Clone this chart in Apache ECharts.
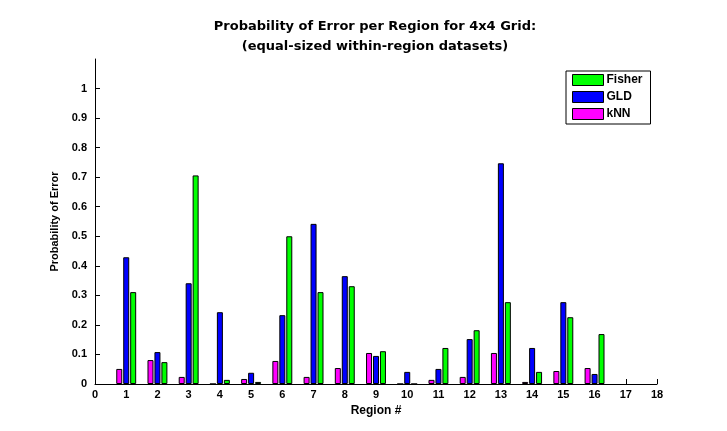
<!DOCTYPE html>
<html>
<head>
<meta charset="utf-8">
<script src="https://cdn.jsdelivr.net/npm/echarts@6/dist/echarts.min.js"></script>
<style>html,body{margin:0;padding:0;background:#fff;}#c{width:727px;height:431px;}</style>
</head>
<body>
<div id="c"></div>
<script>
const regions = [1,2,3,4,5,6,7,8,9,10,11,12,13,14,15,16];
const knn    = [0.051,0.081,0.024,0.000,0.017,0.078,0.024,0.054,0.105,0.000,0.014,0.024,0.105,0.007,0.044,0.054];
const gld    = [0.429,0.108,0.341,0.243,0.038,0.233,0.542,0.365,0.095,0.041,0.051,0.152,0.747,0.122,0.277,0.034];
const fisher = [0.311,0.074,0.706,0.014,0.007,0.500,0.311,0.331,0.111,0.000,0.122,0.182,0.277,0.041,0.226,0.169];

const font = 'Liberation Sans';
const pairs = arr => regions.map((r,i)=>[r, arr[i]]);
const barStyle = c => ({color:c, borderColor:'#000', borderWidth:1});

const chart = echarts.init(document.getElementById('c'));
chart.setOption({
  animation:false,
  backgroundColor:'#fff',
  title:{
    text:'Probability of Error per Region for 4x4 Grid:\n(equal-sized within-region datasets)',
    left:370, top:12, textAlign:'center',
    textStyle:{fontFamily:'DejaVu Sans', fontSize:13, fontWeight:'bold', color:'#000', lineHeight:20}
  },
  legend:{
    data:['Fisher','GLD','kNN'],
    orient:'vertical', left:566, top:71,
    padding:[3,8,4,6],
    icon:'rect',
    itemWidth:31, itemHeight:11, itemGap:5,
    borderColor:'#000', borderWidth:1, borderRadius:0, backgroundColor:'#fff',
    itemStyle:{borderColor:'#000', borderWidth:1},
    textStyle:{fontFamily:font, fontSize:12, fontWeight:'bold', color:'#000', lineHeight:12, padding:[0,0,0,-2]}
  },
  grid:{left:95, right:70, top:59, bottom:47, containLabel:false},
  xAxis:{
    type:'value', min:0, max:18, interval:1,
    name:'Region #', nameLocation:'middle', nameGap:21,
    nameTextStyle:{fontFamily:font, fontSize:12, fontWeight:'bold', color:'#000'},
    axisLine:{show:true, lineStyle:{color:'#000'}},
    axisTick:{show:true, inside:true, length:5, lineStyle:{color:'#000'}},
    axisLabel:{fontFamily:font, fontSize:11, fontWeight:'bold', color:'#000', margin:5},
    splitLine:{show:false}
  },
  yAxis:{
    type:'value', min:0, max:1.1, interval:0.1,
    name:'Probability of Error', nameLocation:'middle', nameGap:24,
    nameTextStyle:{fontFamily:font, fontSize:11, fontWeight:'bold', color:'#000'},
    axisLine:{show:true, lineStyle:{color:'#000'}},
    axisTick:{show:true, inside:true, length:5, lineStyle:{color:'#000'}},
    axisLabel:{fontFamily:font, fontSize:11, fontWeight:'bold', color:'#000', margin:8, showMaxLabel:false,
      formatter: v => String(Math.round(v*10)/10)},
    splitLine:{show:false}
  },
  series:[
    {name:'kNN', type:'bar', data:pairs(knn), barWidth:6, barGap:'16%', itemStyle:barStyle('#ff00ff')},
    {name:'GLD', type:'bar', data:pairs(gld), barWidth:6, barGap:'16%', itemStyle:barStyle('#0000ff')},
    {name:'Fisher', type:'bar', data:pairs(fisher), barWidth:6, barGap:'16%', itemStyle:barStyle('#00ff00')}
  ]
});
</script>
</body>
</html>
